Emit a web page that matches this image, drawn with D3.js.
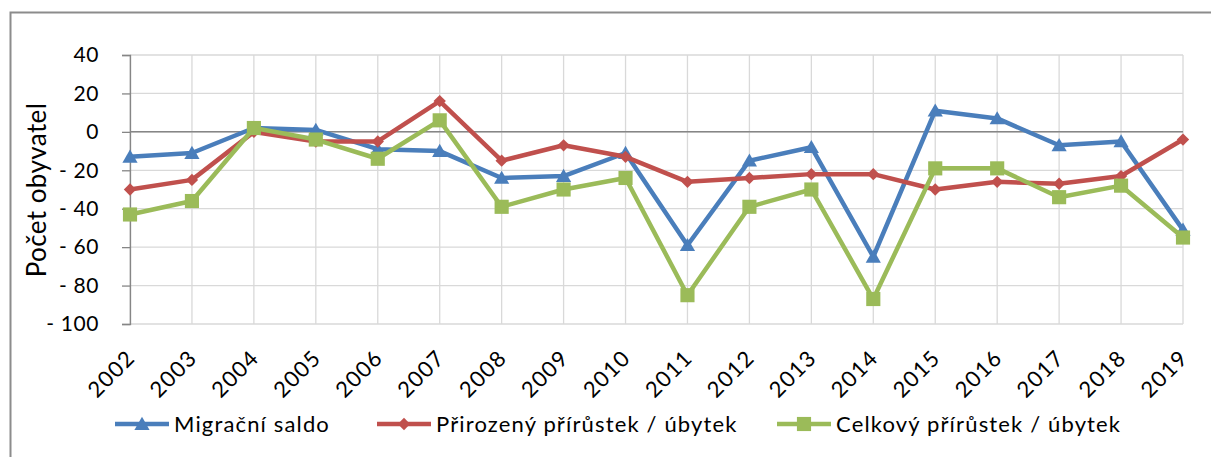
<!DOCTYPE html>
<html>
<head>
<meta charset="utf-8">
<script src="https://cdn.jsdelivr.net/npm/d3@7"></script>
<style>
  body { margin: 0; background: #fff; }
  svg { display: block; font-family: Lato, "Liberation Sans", sans-serif; }
</style>
</head>
<body>
<div id="chart"></div>
<script>
const years = ["2002","2003","2004","2005","2006","2007","2008","2009","2010","2011","2012","2013","2014","2015","2016","2017","2018","2019"];
const migracni = [-13, -11, 2, 1, -9, -10, -24, -23, -11, -59, -15, -8, -65, 11, 7, -7, -5, -51];
const prirozeny = [-30, -25, 0, -5, -5, 16, -15, -7, -13, -26, -24, -22, -22, -30, -26, -27, -23, -4];
const celkovy = [-43, -36, 2, -4, -14, 6, -39, -30, -24, -85, -39, -30, -87, -19, -19, -34, -28, -55];
const yTicks = [40, 20, 0, -20, -40, -60, -80, -100];

const series = [
    { name: "Migrační saldo", values: migracni, color: "#4a7ebb", symbol: "triangle" },
    { name: "Přirozený přírůstek / úbytek", values: prirozeny, color: "#c0504d", symbol: "diamond" },
    { name: "Celkový přírůstek / úbytek", values: celkovy, color: "#9bbb59", symbol: "square" }
];

const width = 1211;
const height = 457;
const margin = { top: 55, right: 28, bottom: 133, left: 130 };

const svg = d3.select("#chart")
    .append("svg")
    .attr("width", width)
    .attr("height", height);

// outer frame (only top and left visible)
svg.append("rect")
    .attr("x", 10.5).attr("y", 12.5)
    .attr("width", width + 20).attr("height", height + 20)
    .attr("fill", "none")
    .attr("stroke", "#8c8c8c")
    .attr("stroke-width", 2);

const x = d3.scalePoint()
    .domain(years)
    .range([margin.left, width - margin.right]);

const y = d3.scaleLinear()
    .domain([-100, 40])
    .range([height - margin.bottom, margin.top]);

// grid
svg.append("g")
    .selectAll("line")
    .data(yTicks)
    .enter()
    .append("line")
    .attr("x1", margin.left).attr("x2", width - margin.right)
    .attr("y1", d => y(d)).attr("y2", d => y(d))
    .attr("stroke", "#d9d9d9")
    .attr("stroke-width", 1.3);

svg.append("g")
    .selectAll("line")
    .data(years)
    .enter()
    .append("line")
    .attr("x1", d => x(d)).attr("x2", d => x(d))
    .attr("y1", y(40)).attr("y2", y(-100))
    .attr("stroke", "#d9d9d9")
    .attr("stroke-width", 1.3);

// y axis
const yAxis = d3.axisLeft(y)
    .tickValues(yTicks)
    .tickSize(8)
    .tickPadding(23)
    .tickFormat(d => d < 0 ? "- " + Math.abs(d) : d);

svg.append("g")
    .attr("transform", `translate(${margin.left},0)`)
    .call(yAxis)
    .call(g => g.select(".domain").attr("stroke", "#868686").attr("stroke-width", 1.3))
    .call(g => g.selectAll(".tick line").attr("stroke", "#868686").attr("stroke-width", 1.3))
    .call(g => g.selectAll(".tick text")
        .attr("font-size", 21)
        .attr("letter-spacing", 0.6)
        .attr("font-family", "Lato, sans-serif")
        .attr("fill", "#000"));

// zero line
svg.append("line")
    .attr("x1", margin.left).attr("x2", width - margin.right)
    .attr("y1", y(0)).attr("y2", y(0))
    .attr("stroke", "#868686")
    .attr("stroke-width", 1.5);

// x labels
svg.append("g")
    .selectAll("text")
    .data(years)
    .enter()
    .append("text")
    .attr("transform", d => `translate(${x(d) + 1},${y(-100) + 30}) rotate(-45)`)
    .attr("text-anchor", "end")
    .attr("dy", "0.35em")
    .attr("font-size", 22)
    .attr("letter-spacing", 1.2)
    .attr("fill", "#000")
    .text(d => d);

// y title
svg.append("text")
    .attr("transform", `translate(37,${190}) rotate(-90)`)
    .attr("text-anchor", "middle")
    .attr("dy", "0.35em")
    .attr("font-size", 26)
    .attr("letter-spacing", 0.4)
    .attr("fill", "#000")
    .text("Počet obyvatel");

function markerPath(sym) {
    if (sym === "triangle") return d3.symbol().type(d3.symbolTriangle).size(100)();
    if (sym === "diamond") return d3.symbol().type(d3.symbolSquare).size(76)();
    return d3.symbol().type(d3.symbolSquare).size(200)();
}

const line = d3.line()
    .x((d, i) => x(years[i]))
    .y(d => y(d));

series.forEach(s => {
    svg.append("path")
        .datum(s.values)
        .attr("d", line)
        .attr("fill", "none")
        .attr("stroke", s.color)
        .attr("stroke-width", 4.5)
        .attr("stroke-linejoin", "round");

    svg.append("g")
        .selectAll("path")
        .data(s.values)
        .enter()
        .append("path")
        .attr("d", markerPath(s.symbol))
        .attr("transform", (d, i) => `translate(${x(years[i])},${y(d) + (s.symbol === "triangle" ? 1.5 : 0)})` + (s.symbol === "diamond" ? " rotate(45)" : ""))
        .attr("fill", s.color);
});

// legend
const legendX = [115, 377, 777];
const legendY = 424;
const legend = svg.append("g");
series.forEach((s, i) => {
    const g = legend.append("g").attr("transform", `translate(${legendX[i]},${legendY})`);
    g.append("line")
        .attr("x1", 0).attr("x2", 54)
        .attr("stroke", s.color)
        .attr("stroke-width", 4.5);
    g.append("path")
        .attr("d", markerPath(s.symbol))
        .attr("transform", `translate(27,${s.symbol === "triangle" ? 1.5 : 0})` + (s.symbol === "diamond" ? " rotate(45)" : ""))
        .attr("fill", s.color);
    g.append("text")
        .attr("x", 59)
        .attr("dy", "0.35em")
        .attr("font-size", 22)
        .attr("letter-spacing", 1.15)
        .attr("fill", "#000")
        .text(s.name);
});
</script>
</body>
</html>
